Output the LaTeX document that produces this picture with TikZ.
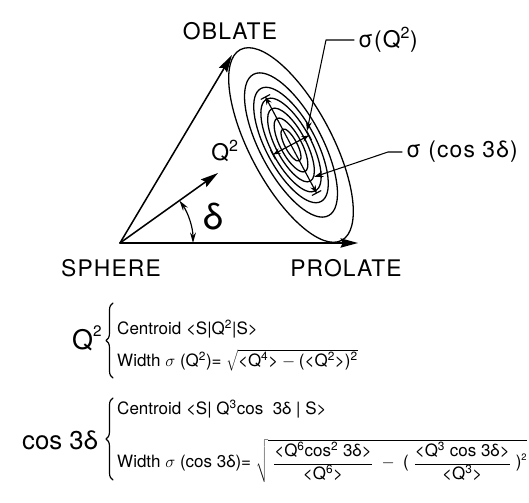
\documentclass[tikz,border=0pt]{standalone}
\usepackage{fontspec}
\setmainfont{TeX Gyre Heros}
\newfontfamily\lettering[LetterSpace=5]{TeX Gyre Heros}
\usetikzlibrary{arrows.meta,calc,decorations.pathreplacing}
\tikzset{
  biglbl/.style={font=\lettering\fontsize{19.5}{22}\selectfont},
  formula/.style={font=\fontsize{14.5}{17}\selectfont, anchor=base west, inner sep=0pt},
  axisarrow/.style={line width=1.3pt, -{Stealth[length=15pt,width=8pt,inset=2pt]}},
  contour/.style={line width=1.1pt},
  errbar/.style={line width=1pt, {Bar[width=9pt]Stealth[length=6pt,width=5pt]}-{Stealth[length=6pt,width=5pt]Bar[width=9pt]}},
  pointer/.style={line width=0.9pt, -{Stealth[length=8pt,width=5pt]}},
  bigbrace/.style={line width=1pt, decorate, decoration={brace, amplitude=6pt}}
}
\begin{document}
\begin{tikzpicture}[x=0.03cm, y=0.03cm, line cap=round, line join=round]
  \useasboundingbox (0,0) rectangle (529,503);
  % the shape triangle
  \coordinate (O) at (120,260);
  \coordinate (obl) at (232,448);
  \coordinate (pro) at (358,260);
  \coordinate (qtip) at (218,330);
  \draw[axisarrow] (O) -- (obl);
  \draw[axisarrow] (O) -- (pro);
  \draw[axisarrow] (O) -- (qtip);
  \draw[line width=1pt, {Stealth[length=9pt,width=5pt]}-{Stealth[length=9pt,width=5pt]}] ($(O)+(35.5:73)$) arc (35.5:0:73);
  \node[biglbl] (oblate) at (230,472) {OBLATE};
  \node[biglbl] (sphere) at (111,235) {SPHERE};
  \node[biglbl] (prolate) at (346,235) {PROLATE};
  \node[biglbl] (qlab) at (225,352) {Q\textsuperscript{2}};
  \node[font=\fontsize{31}{34}\selectfont] (dlab) at (213,286) {δ};
  % the contours
  \coordinate (E) at (291,358);
  \foreach \a/\b in {108/41, 80/31, 64/25, 52/20, 41/15, 30/10.5, 18/6}
    \draw[contour, rotate around={118:(E)}] (E) ellipse ({\a} and {\b});
  \draw[errbar] ($(E)+(118:55)$) -- ($(E)+(-62:55)$);
  \draw[errbar] ($(E)+(208:21)$) -- ($(E)+(28:21)$);
  % the widths
  \coordinate (sqtip) at (307,372);
  \coordinate (sctip) at (314,326);
  \node[biglbl, anchor=west] (sigq) at (354,463) {σ(Q\textsuperscript{2})};
  \node[biglbl, anchor=west] (sigc) at (402,351) {σ (cos 3δ)};
  \draw[pointer] (sigq.west) -- ++(-28,0) -- (sqtip);
  \draw[pointer] (sigc.west) -- ++(-14,0) -- (sctip);
  % the definitions
  \node[font=\fontsize{23}{26}\selectfont, anchor=base west, inner sep=0pt] (qbig) at (72,153) {Q\raisebox{0.5em}{\fontsize{13}{13}\selectfont 2}};
  \draw[bigbrace] (113,125) -- (113,200);
  \node[formula] (cen1) at (117,168) {Centroid <S|Q\textsuperscript{2}|S>};
  \node[formula] (wid1) at (117,136) {Width $\sigma$ (Q\textsuperscript{2})= $\sqrt{\mbox{<Q\textsuperscript{4}>}-\mbox{(<Q\textsuperscript{2}>)\textsuperscript{2}}}$};
  \node[font=\fontsize{22}{26}\selectfont, anchor=base west, inner sep=0pt] (cbig) at (22,53) {cos 3δ};
  \draw[bigbrace] (113,23) -- (113,105);
  \node[formula] (cen2) at (117,88) {Centroid <S| Q\textsuperscript{3}cos~ 3δ | S>};
  \node[formula] (wid2) at (117,35) {Width $\sigma$ (cos 3δ)=\;$\sqrt{\;\displaystyle\frac{\mbox{<Q\textsuperscript{6}cos\textsuperscript{2}~3δ>}}{\mbox{<Q\textsuperscript{6}>}}\;-\;\mbox{(}\;\frac{\mbox{<Q\textsuperscript{3} cos 3δ>}}{\mbox{<Q\textsuperscript{3}>}}\;\mbox{)}^{\mbox{\footnotesize 2}}}$};
\end{tikzpicture}
\end{document}
